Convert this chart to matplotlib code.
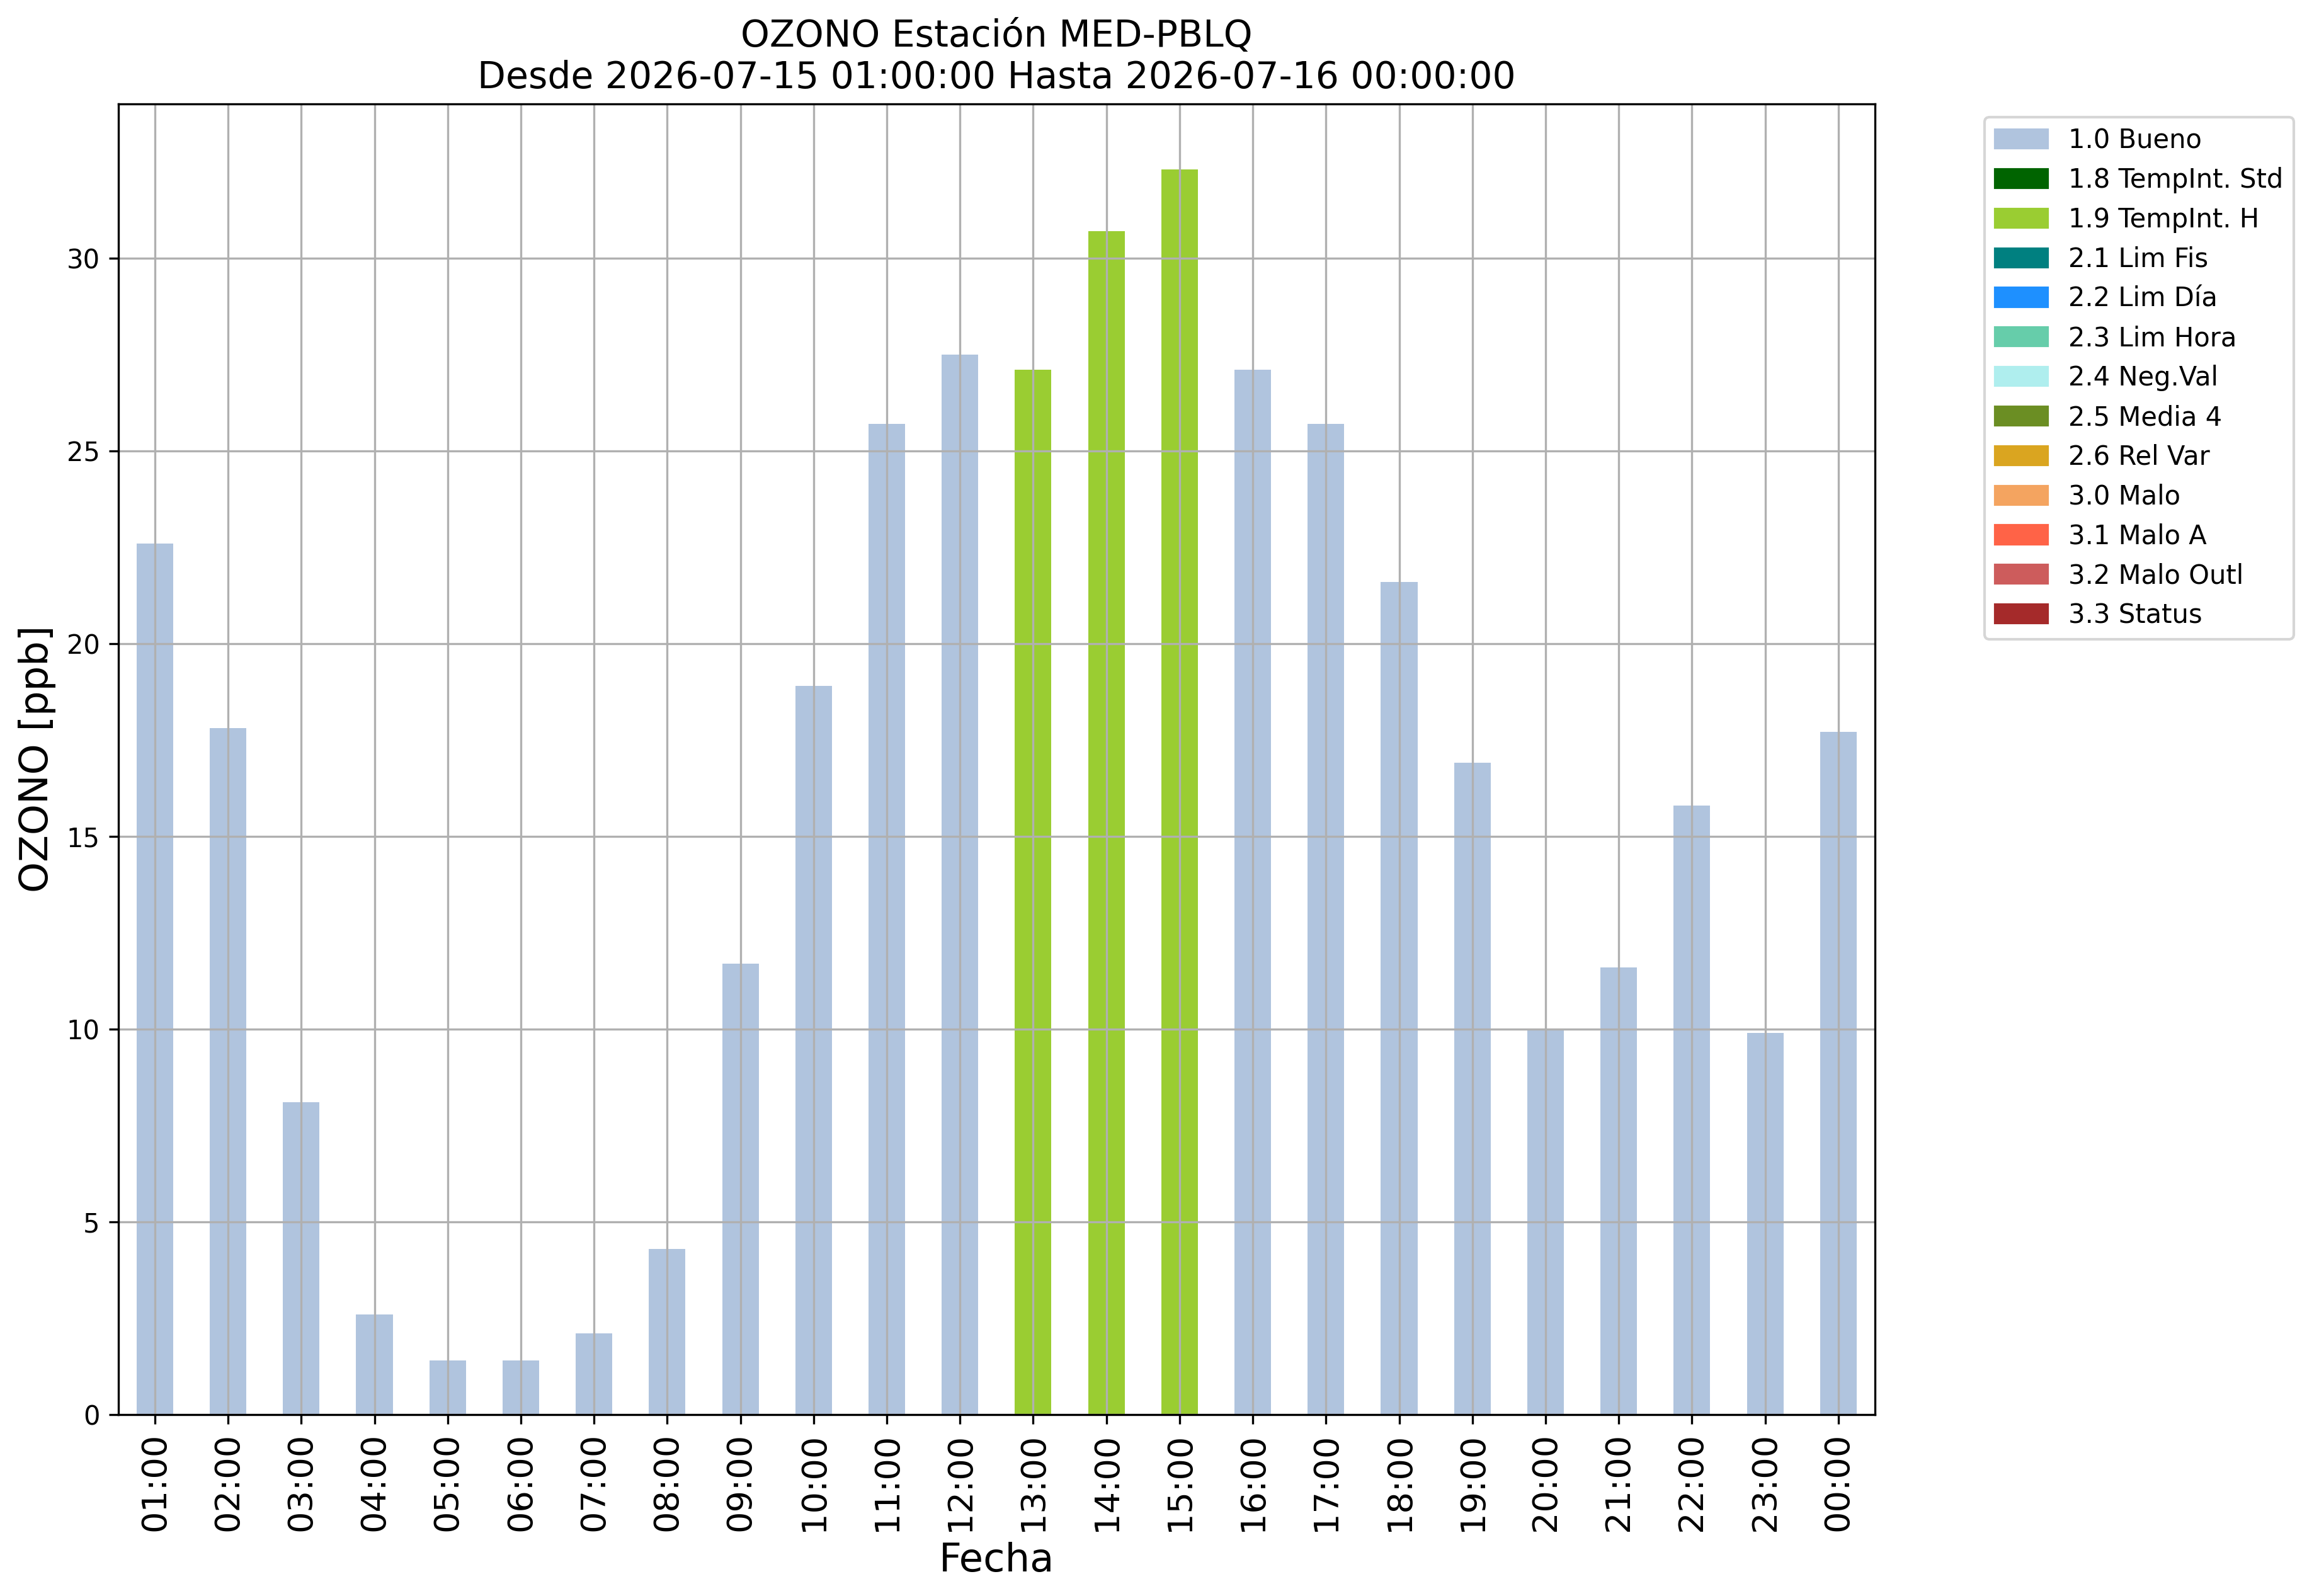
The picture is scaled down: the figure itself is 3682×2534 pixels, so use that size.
# coding = utf-8

import matplotlib
matplotlib.use("Agg")
import matplotlib.pyplot as plt
from matplotlib.patches import Patch

# horas y valores de ozono [ppb]
horas = ["01:00", "02:00", "03:00", "04:00", "05:00", "06:00", "07:00", "08:00",
         "09:00", "10:00", "11:00", "12:00", "13:00", "14:00", "15:00", "16:00",
         "17:00", "18:00", "19:00", "20:00", "21:00", "22:00", "23:00", "00:00"]
ozono = [22.6, 17.8, 8.1, 2.6, 1.4, 1.4, 2.1, 4.3, 11.7, 18.9, 25.7, 27.5,
         27.1, 30.7, 32.3, 27.1, 25.7, 21.6, 16.9, 10.0, 11.6, 15.8, 9.9, 17.7]
# bandera de calidad de cada hora
flags = ["1.0", "1.0", "1.0", "1.0", "1.0", "1.0", "1.0", "1.0", "1.0", "1.0",
         "1.0", "1.0", "1.9", "1.9", "1.9", "1.0", "1.0", "1.0", "1.0", "1.0",
         "1.0", "1.0", "1.0", "1.0"]

# leyenda de banderas
flag_codes = ["1.0", "1.8", "1.9", "2.1", "2.2", "2.3", "2.4", "2.5", "2.6",
              "3.0", "3.1", "3.2", "3.3"]
flag_names = ["1.0 Bueno", "1.8 TempInt. Std", "1.9 TempInt. H", "2.1 Lim Fis",
              "2.2 Lim Día", "2.3 Lim Hora", "2.4 Neg.Val", "2.5 Media 4",
              "2.6 Rel Var", "3.0 Malo", "3.1 Malo A", "3.2 Malo Outl", "3.3 Status"]
flag_colors = ["lightsteelblue", "darkgreen", "yellowgreen", "teal", "dodgerblue",
               "mediumaquamarine", "paleturquoise", "olivedrab", "goldenrod",
               "sandybrown", "tomato", "indianred", "brown"]
color_map = dict(zip(flag_codes, flag_colors))

fig = plt.figure(figsize=(3682 / 300, 2534 / 300), dpi=300)
ax = fig.add_axes([0.051, 0.1137, 0.7575, 0.8213])

colores = [color_map[f] for f in flags]
ax.bar(range(len(horas)), ozono, width=0.5, color=colores)

ax.set_xlim(-0.5, len(horas) - 0.5)
ax.set_ylim(0, 34)
ax.set_xticks(range(len(horas)))
ax.set_xticklabels(horas, rotation=90, fontsize=13)
ax.tick_params(axis="y", labelsize=10)
ax.grid(True)

ax.set_title("OZONO Estación MED-PBLQ\nDesde 2026-07-15 01:00:00 Hasta 2026-07-16 00:00:00",
             fontsize=14)
ax.set_xlabel("Fecha", fontsize=15)
ax.set_ylabel("OZONO [ppb]", fontsize=15)

handles = [Patch(color=c, label=n) for c, n in zip(flag_colors, flag_names)]
ax.legend(handles=handles, bbox_to_anchor=(1.055, 1), loc="upper left", fontsize=10)

fig.savefig("out.png", dpi=300)
